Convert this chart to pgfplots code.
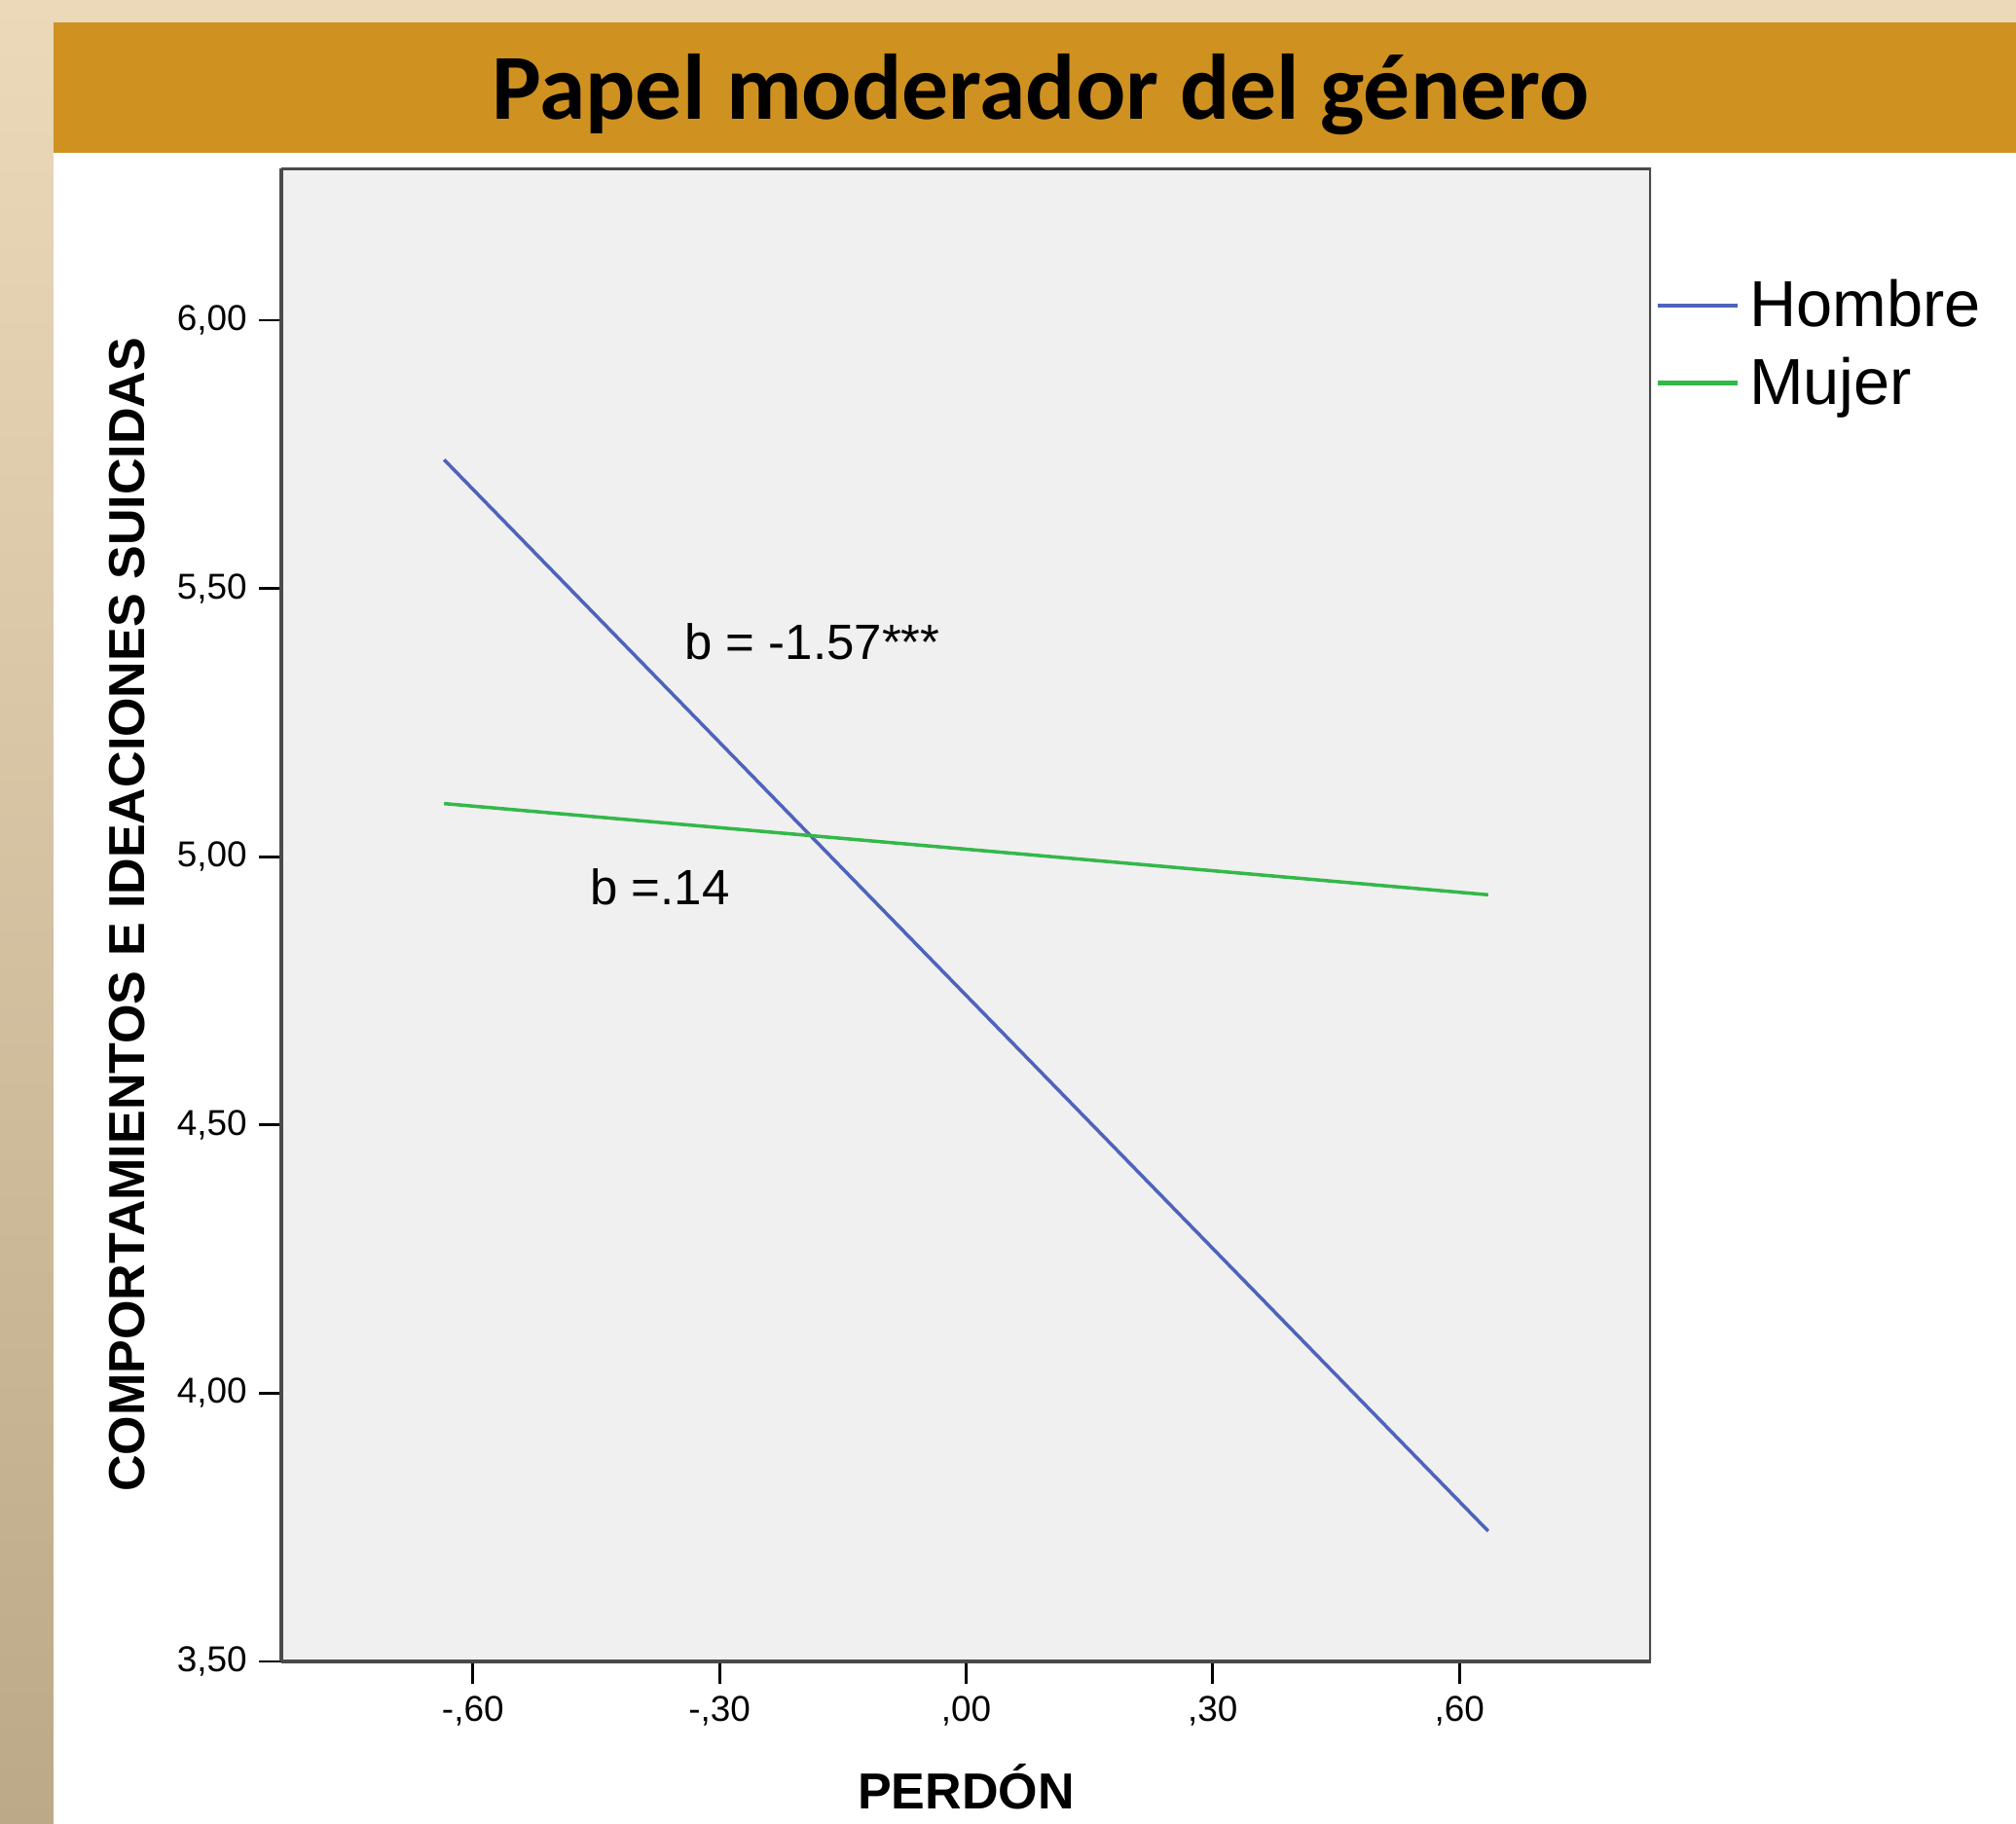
\documentclass[border=0pt]{standalone}
\usepackage{fontspec}
\setmainfont{Liberation Sans}
\newfontfamily\titlefont{Carlito}
\usepackage{pgfplots}
\pgfplotsset{compat=1.18}

\definecolor{topbeige}{HTML}{EBD9BA}
\definecolor{lowbeige}{HTML}{BCA987}
\definecolor{band}{HTML}{CF9120}
\definecolor{plotbg}{HTML}{F0F0F0}
\definecolor{framegray}{HTML}{4A4A4A}
\definecolor{hombre}{HTML}{4F63BC}
\definecolor{mujer}{HTML}{33B84A}

\begin{document}
\begin{tikzpicture}
% slide background
\fill[topbeige] (0,0) rectangle (20.71,-18.74);
\shade[top color=topbeige, bottom color=lowbeige] (0,0) rectangle (0.55,-18.74);
\fill[white] (0.55,-1.57) rectangle (20.71,-18.74);
\fill[band] (0.55,-0.23) rectangle (20.71,-1.57);
\node[anchor=base, font=\titlefont\bfseries\fontsize{27.2}{31}\selectfont] at (10.69,-1.23) {Papel moderador del género};

\begin{axis}[
    at={(2.89cm,-17.07cm)}, anchor=south west,
    scale only axis,
    width=14.07cm, height=15.34cm,
    xmin=-0.833, xmax=0.833,
    ymin=3.5, ymax=6.283,
    axis background/.style={fill=plotbg},
    axis line style={framegray, line width=1.4pt},
    axis x line*=bottom, axis y line*=left,
    tick align=outside,
    major tick length=0.23cm,
    every tick/.style={black, line width=0.8pt},
    xtick={-0.6,-0.3,0,0.3,0.6},
    xticklabels={-{,}60,-{,}30,{,}00,{,}30,{,}60},
    ytick={3.5,4,4.5,5,5.5,6},
    yticklabels={{3,50},{4,00},{4,50},{5,00},{5,50},{6,00}},
    ticklabel style={font=\fontsize{10.5}{12}\selectfont},
    xlabel={PERDÓN},
    ylabel={COMPORTAMIENTOS E IDEACIONES SUICIDAS},
    label style={font=\bfseries\fontsize{14.8}{17}\selectfont},
    xlabel style={at={(axis description cs:0.5,-0.084)}, anchor=center},
    ylabel style={at={(axis description cs:-0.1123,0.5)}, anchor=center, rotate=0},
    legend style={at={(axis description cs:1.003,0.9307)}, anchor=north west,
        draw=none, fill=none, font=\fontsize{19}{23}\selectfont,
        inner xsep=0pt, inner ysep=0pt, row sep=3.4pt,
        /tikz/every odd column/.append style={column sep=0.03cm}},
    legend cell align=left,
    legend image code/.code={\draw[#1, line width=1.2pt] (0cm,0cm) -- (0.82cm,0cm);},
]
\addplot[hombre, line width=1pt] coordinates {(-0.635,5.740) (0.635,3.743)};
\addlegendentry{Hombre}
\addplot[mujer, line width=1pt] coordinates {(-0.635,5.099) (0.635,4.929)};
\addlegendentry{Mujer}
% outer frame (top and right edges)
\draw[framegray, line width=1.4pt] (rel axis cs:0,1) -- (rel axis cs:1,1) -- (rel axis cs:1,0);
\node[anchor=west, inner sep=0pt, font=\fontsize{14.5}{17}\selectfont] at (axis cs:-0.343,5.40) {b = -1.57***};
\node[anchor=west, inner sep=0pt, font=\fontsize{14.5}{17}\selectfont] at (axis cs:-0.458,4.944) {b =.14};
\end{axis}
\pgfresetboundingbox
\path[use as bounding box] (0,0) rectangle (20.71,-18.74);
\end{tikzpicture}
\end{document}
